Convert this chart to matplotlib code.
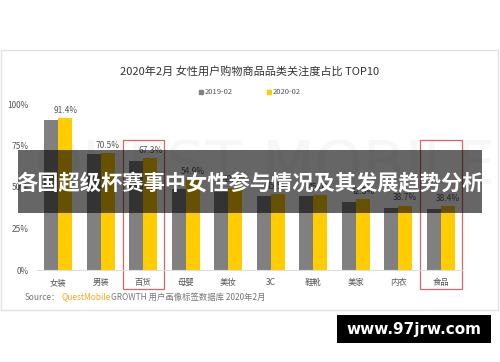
import matplotlib
matplotlib.use("Agg")
import matplotlib.pyplot as plt
import numpy as np
from matplotlib.patches import Rectangle

plt.rcParams['font.family'] = ['Noto Sans CJK SC', 'DejaVu Sans']

# datos
categorias = ["女装", "男装", "百货", "母婴", "美妆", "3C", "鞋靴", "美家", "内衣", "食品"]
serie_2019 = [90.5, 69.9, 65.7, 48.5, 48.0, 44.6, 44.5, 41.0, 37.3, 36.7]
serie_2020 = [91.4, 70.5, 67.3, 54.9, 49.6, 45.5, 45.0, 42.8, 38.7, 38.4]
etiquetas_2020 = ["91.4%", "70.5%", "67.3%", "54.9%", "49.6%", "45.5%", "45.0%", "42.8%", "38.7%", "38.4%"]
ticks_y = [0, 25, 50, 75, 100]
nombres_series = ["2019-02", "2020-02"]
destacados = ["百货", "食品"]

W, H = 500, 362
fig = plt.figure(figsize=(5, 3.62), dpi=100)
fig.patch.set_facecolor("white")

def px_rect(x0, y0, x1, y1):
    # convierte pixeles (origen arriba-izq) a coordenadas de figura
    return [x0 / W, 1 - y1 / H, (x1 - x0) / W, (y1 - y0) / H]

# fondo: tarjeta y marca de agua
fondo = fig.add_axes([0, 0, 1, 1])
fondo.set_xlim(0, W)
fondo.set_ylim(H, 0)
fondo.axis("off")
fondo.add_patch(Rectangle((1, 50), 497, 260, facecolor="white", edgecolor="#e2e2e2", lw=1))
fondo.text(265, 168, "QUEST MOBILE", fontsize=44, color="#f7f7f7", ha="center", va="center",
           family="DejaVu Sans")
fondo.text(250, 71, "2020年2月 女性用户购物商品品类关注度占比 TOP10", fontsize=8, color="#333333",
           ha="center", va="center")

col_2019 = "#808080"
col_2020 = "#ffcc00"
fondo.add_patch(Rectangle((199, 89.5), 4, 4, color=col_2019))
fondo.text(205, 92, nombres_series[0], fontsize=5.5, color="#555555", va="center")
fondo.add_patch(Rectangle((267, 89.5), 4, 4, color=col_2020))
fondo.text(273, 92, nombres_series[1], fontsize=5.5, color="#555555", va="center")

fondo.text(25, 297, "Source：", fontsize=6, color="#777777", va="center")
fondo.text(62, 297, "QuestMobile", fontsize=6, color="#f5a623", va="center")
fondo.text(111, 297, "GROWTH 用户画像标签数据库 2020年2月", fontsize=6, color="#777777", va="center")

# grafico de barras
ax = fig.add_axes(px_rect(37, 104, 462, 270))
ax.patch.set_alpha(0)
x = np.arange(len(categorias))
ancho = 0.33
ax.bar(x - ancho / 2, serie_2019, ancho, color=col_2019)
ax.bar(x + ancho / 2, serie_2020, ancho, color=col_2020)
for i, t in enumerate(etiquetas_2020):
    ax.text(x[i] + ancho / 2, serie_2020[i] + 2, t, ha="center", va="bottom", fontsize=6,
            color="#555555", clip_on=False)
ax.set_xlim(-0.5, len(categorias) - 0.5)
ax.set_ylim(0, 100)
ax.set_yticks(ticks_y)
ax.set_yticklabels([f"{v}%" for v in ticks_y], fontsize=6, color="#555555")
ax.set_xticks(x)
ax.set_xticklabels(categorias, fontsize=6, color="#555555")
ax.tick_params(length=0, pad=6)
for s in ["top", "right", "left"]:
    ax.spines[s].set_visible(False)
ax.spines["bottom"].set_color("#dddddd")

# recuadros rojos
for c in destacados:
    i = categorias.index(c)
    x0 = 37 + 42.5 * i
    fondo.add_patch(Rectangle((x0 + 0.5, 140), 41.5, 149, fill=False, edgecolor="#d9646a", lw=0.9,
                              zorder=5))

# capa superior: banda oscura y sello
frente = fig.add_axes([0, 0, 1, 1])
frente.set_xlim(0, W)
frente.set_ylim(H, 0)
frente.axis("off")
frente.patch.set_alpha(0)
frente.add_patch(Rectangle((18, 150), 464, 63, color="black", alpha=0.6, lw=0))
frente.text(250, 184, "各国超级杯赛事中女性参与情况及其发展趋势分析", fontsize=15.3, color="white",
            fontweight="bold", ha="center", va="center")
frente.add_patch(Rectangle((337, 315), 154, 28, color="black", lw=0))
frente.text(414, 329.5, "www.97jrw.com", fontsize=11, color="white", fontweight="bold",
            ha="center", va="center", family="DejaVu Sans")

fig.savefig("out.png", dpi=100)
